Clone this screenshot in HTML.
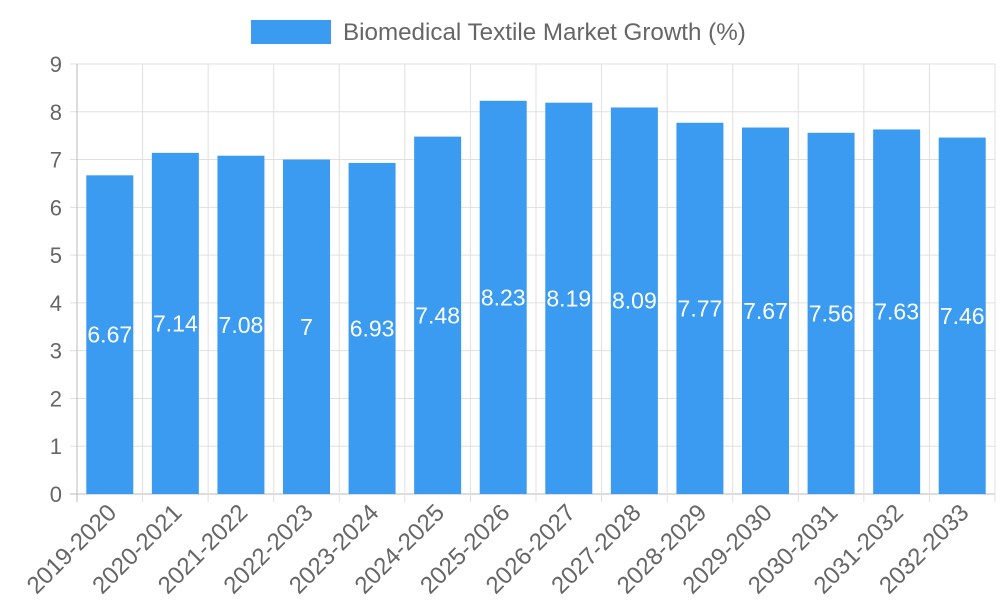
<!DOCTYPE html>
<html><head><meta charset="utf-8"><style>
body{margin:0;background:#fff;}
svg text{font-family:"Liberation Sans",sans-serif;}
</style></head><body>
<svg id="chart" width="1000" height="600" xmlns="http://www.w3.org/2000/svg">
<g id="legend">
<rect x="251" y="20" width="80" height="24" fill="#3a9bf0"/>
<text x="343" y="40" font-size="24.2" fill="#666">Biomedical Textile Market Growth (%)</text>
</g>
<g id="grid"></g><g id="bars"></g><g id="labels"></g>
</svg>
<script>
const categories=["2019-2020","2020-2021","2021-2022","2022-2023","2023-2024","2024-2025","2025-2026","2026-2027","2027-2028","2028-2029","2029-2030","2030-2031","2031-2032","2032-2033"];
const values=[6.67,7.14,7.08,7,6.93,7.48,8.23,8.19,8.09,7.77,7.67,7.56,7.63,7.46];
const yTicks=[0,1,2,3,4,5,6,7,8,9];
const NS="http://www.w3.org/2000/svg";
const L=77,R=995,T=64,B=494,yMax=9;
const step=(R-L)/categories.length;
const y=v=>B-(v/yMax)*(B-T);
const x=i=>L+i*step;
function mk(tag,attrs,parent){const e=document.createElementNS(NS,tag);for(const k in attrs)e.setAttribute(k,attrs[k]);parent.appendChild(e);return e;}
const grid=document.getElementById('grid'),bars=document.getElementById('bars'),labels=document.getElementById('labels');
yTicks.forEach(t=>{
 const ln=mk('line',{x1:70,x2:R,y1:y(t),y2:y(t),stroke:t===0?'#bbb':'#e0e0e0','stroke-width':1},grid);
 
 
 const tx=mk('text',{x:62,y:y(t)+8,'font-size':22,fill:'#666','text-anchor':'end'},grid);
 tx.textContent=t;
 
 
});
for(let i=0;i<=categories.length;i++){
 const ln=mk('line',{x1:x(i),x2:x(i),y1:T,y2:B+8,stroke:i===0?'#bbb':'#e0e0e0','stroke-width':1},grid);
 
 
}
const bw=47;
categories.forEach((c,i)=>{
 const cx=x(i)+step/2,v=values[i];
 const r=mk('rect',{x:cx-bw/2,y:y(v),width:bw,height:B-y(v),fill:'#3a9bf0'},bars);
 
 
 const vl=mk('text',{x:cx,y:(y(v)+B)/2+8,'font-size':23,fill:'#fff','text-anchor':'middle'},labels);
 vl.textContent=v;
 
 
 const ax=cx+8,ay=B+20;
 const xl=mk('text',{x:ax,y:ay,'font-size':24,fill:'#666','text-anchor':'end',transform:`rotate(-45 ${ax} ${ay})`},labels);
 xl.textContent=c;
 
 
});
</script>
</body></html>
